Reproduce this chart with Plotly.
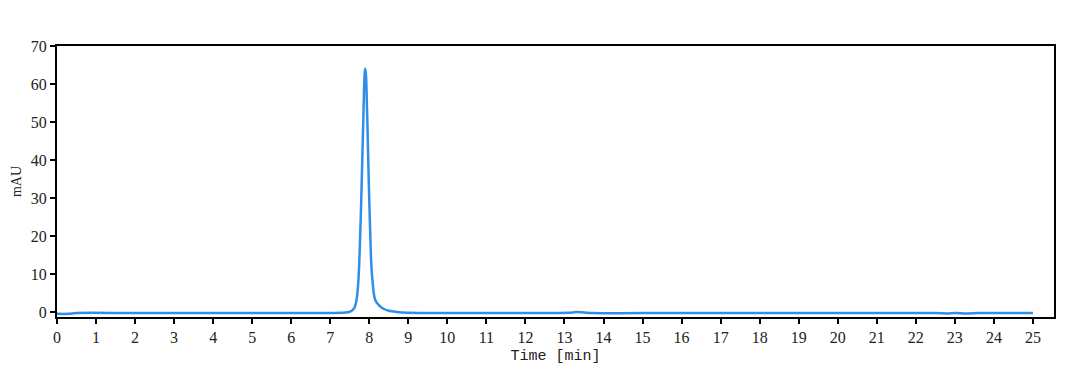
import plotly.graph_objects as go

# Chromatogram trace (time in min, absorbance in mAU)
time_min = [0.0, 0.3, 0.5, 2.0, 4.0, 6.0, 7.0, 7.30, 7.45, 7.55, 7.62, 7.66, 7.70, 7.73, 7.76,
            7.79, 7.82, 7.85, 7.87, 7.89, 7.91, 7.93, 7.96, 7.99, 8.02, 8.05, 8.08,
            8.15, 8.25, 8.35, 8.50, 8.70, 9.00, 10.0, 12.0, 13.1, 13.3, 13.5, 13.7,
            15.0, 18.0, 20.0, 22.5, 22.8, 23.0, 23.3, 23.6, 24.0, 25.0]
absorbance = [-0.40, -0.40, -0.20, -0.20, -0.20, -0.20, -0.20, -0.15, 0.0, 0.4, 1.2, 2.5, 5.5, 10.0, 18.0,
              28.0, 40.0, 52.0, 60.0, 64.0, 63.0, 58.0, 46.0, 33.0, 22.0, 13.0, 8.5,
              3.3, 1.8, 1.0, 0.4, 0.1, -0.1, -0.2, -0.2, -0.15, 0.05, -0.05, -0.2,
              -0.2, -0.2, -0.2, -0.2, -0.3, -0.2, -0.3, -0.2, -0.2, -0.2]

x_ticks = list(range(0, 26))
y_ticks = list(range(0, 71, 10))

fig = go.Figure()
fig.add_trace(go.Scatter(x=time_min, y=absorbance, mode="lines",
                         line=dict(color="#2e8ee8", width=2.5), showlegend=False,
                         line_shape="spline"))

axis_common = dict(showline=True, linecolor="black", linewidth=2, mirror=True,
                   ticks="outside", ticklen=5, tickwidth=1.5, tickcolor="black",
                   showgrid=False, zeroline=False, automargin=False,
                   tickfont=dict(family="Liberation Serif", size=16, color="#222"))

fig.update_layout(
    width=1075, height=378,
    margin=dict(l=49, r=29, t=38, b=69),
    paper_bgcolor="white", plot_bgcolor="white",
    xaxis=dict(range=[0, 25.54], tickvals=x_ticks, ticktext=[str(t) for t in x_ticks],
               title=dict(text="Time [min]", font=dict(family="Liberation Mono", size=15, color="#222"),
                          standoff=4),
               **axis_common),
    yaxis=dict(range=[-1.24, 70], tickvals=y_ticks, ticktext=[str(t) for t in y_ticks],
               title=dict(text="mAU", font=dict(family="Liberation Serif", size=14, color="#222"),
                          standoff=6),
               **axis_common),
)

fig.write_html("out.html")
